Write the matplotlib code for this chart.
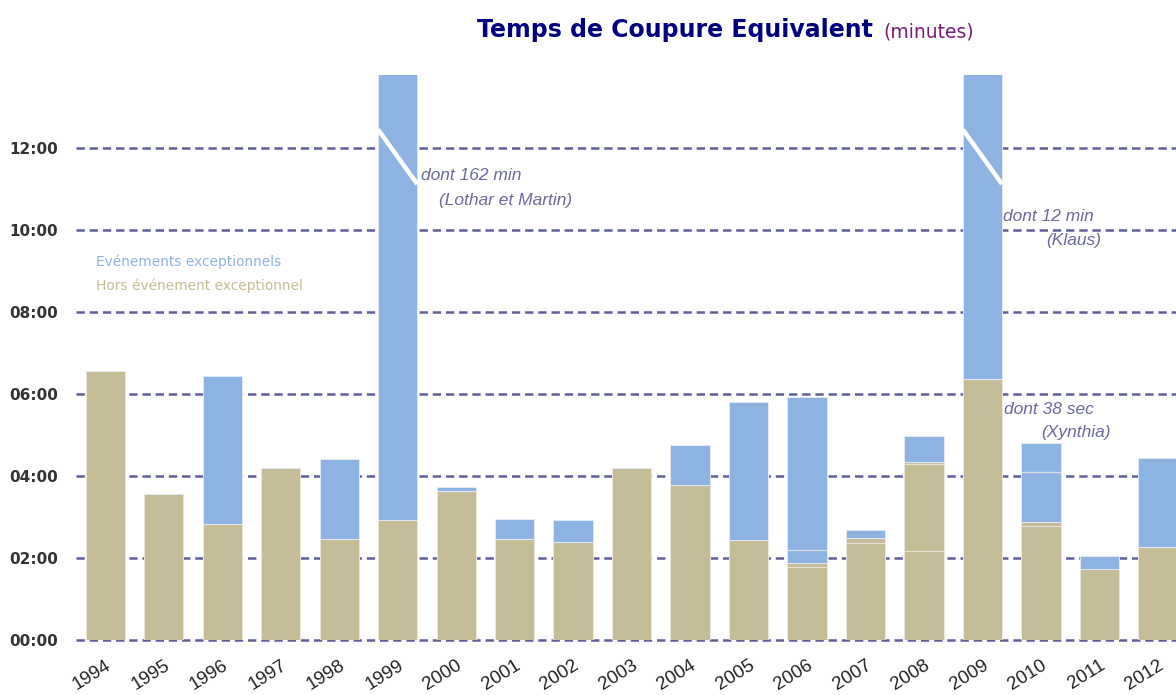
import numpy as np
import matplotlib
matplotlib.use("Agg")
import matplotlib.pyplot as plt
from matplotlib.ticker import FuncFormatter

# valeurs en minutes
years = [1994, 1995, 1996, 1997, 1998, 1999, 2000, 2001, 2002, 2003,
         2004, 2005, 2006, 2007, 2008, 2009, 2010, 2011, 2012]
hors_exc = [6.56, 3.55, 2.84, 4.19, 2.46, 2.92, 3.63, 2.46, 2.38, 4.20,
            3.77, 2.44, 1.89, 2.49, 4.35, 6.36, 2.89, 1.72, 2.28]
exceptionnel = [0.0, 0.0, 3.60, 0.0, 1.95, 162.0, 0.09, 0.48, 0.55, 0.0,
                0.98, 3.36, 4.04, 0.20, 0.63, 12.4, 1.91, 0.33, 2.15]
# fines lignes de separation visibles a l'interieur de certaines barres
seams = {2006: [1.77, 2.19], 2007: [2.37], 2008: [2.16, 4.29], 2010: [2.78, 4.09]}
y_ticks = [0, 2, 4, 6, 8, 10, 12]
# barres coupees (axe rompu)
broken = [1999, 2009]
# (annee, ligne 1, ligne 2, decalage x ligne 1, y ligne 1, decalage x ligne 2 (bord droit), y ligne 2)
notes = [
    (1999, "dont 162 min", "(Lothar et Martin)", 0.40, 11.34, 2.98, 10.73),
    (2009, "dont 12 min", "(Klaus)", 0.355, 10.32, 2.03, 9.74),
    (2010, "dont 38 sec", "(Xynthia)", -0.63, 5.61, 1.19, 5.07),
]

C_BLUE = "#8db3e2"
C_TAN = "#c4bd97"
C_GRID = "#5f5e9b"
C_NOTE = "#6a6a9c"

plt.rcParams["lines.scale_dashes"] = False

fig = plt.figure(figsize=(11.76, 6.95), dpi=100)
ax = fig.add_axes([76 / 1176, 55 / 695, 1 - 76 / 1176, 565 / 695])

x = np.arange(len(years))
w = 0.67
ax.bar(x, hors_exc, w, color=C_TAN, edgecolor="#ebe8da", linewidth=0.7, zorder=2)
ax.bar(x, exceptionnel, w, bottom=hors_exc, color=C_BLUE, edgecolor="#e2eaf6",
       linewidth=0.7, zorder=2)

for yr, vals in seams.items():
    i = years.index(yr)
    ax.hlines(vals, i - w / 2, i + w / 2, colors="#eeeae0", linewidth=0.9, alpha=0.8, zorder=3)

# trait blanc de rupture
for yr in broken:
    i = years.index(yr)
    ax.plot([i - w / 2, i + w / 2], [12.45, 11.12], color="white", linewidth=3.2,
            solid_capstyle="butt", zorder=4)

for v in y_ticks:
    ax.axhline(v, color=C_GRID, linewidth=1.8, linestyle=(0, (6, 3.5)), zorder=1,
               clip_on=False)

ax.set_xlim(-0.5, 18.31)
ax.set_ylim(0, 13.78)
ax.set_yticks(y_ticks)
ax.yaxis.set_major_formatter(FuncFormatter(lambda v, p: "%02d:%02d" % (int(v), round((v % 1) * 60))))
ax.tick_params(axis="y", length=0, pad=13, labelsize=11, labelcolor="#333333")
for lab in ax.get_yticklabels():
    lab.set_fontweight("bold")

ax.set_xticks(x)
ax.set_xticklabels([str(y) for y in years], rotation=32, ha="right",
                   rotation_mode="anchor", fontsize=13.5, family="Liberation Sans",
                   color="#222222")
ax.tick_params(axis="x", length=0, pad=12)
for s in ax.spines.values():
    s.set_visible(False)

# annotations
for yr, l1, l2, dx1, y1, dx2, y2 in notes:
    i = years.index(yr)
    ax.text(i + dx1, y1, l1, style="italic", family="Liberation Sans",
            fontsize=12.5, color=C_NOTE, va="center", ha="left")
    ax.text(i + dx2, y2, l2, style="italic", family="Liberation Sans",
            fontsize=12.5, color=C_NOTE, va="center", ha="right")

# legende en texte
fig.text(96 / 1176, 1 - 262 / 695, "Evénements exceptionnels", color=C_BLUE,
         fontsize=9.9, va="center", ha="left")
fig.text(96 / 1176, 1 - 286 / 695, "Hors événement exceptionnel", color=C_TAN,
         fontsize=9.9, va="center", ha="left")

# titre
fig.text(477 / 1176, 1 - 37 / 695, "Temps de Coupure Equivalent", color="#000080",
         fontsize=17, fontweight="bold", va="baseline", ha="left")
fig.text(883 / 1176, 1 - 37 / 695, "(minutes)", color="#7b1a78",
         fontsize=13.5, va="baseline", ha="left")

fig.savefig("out.png", dpi=100)
